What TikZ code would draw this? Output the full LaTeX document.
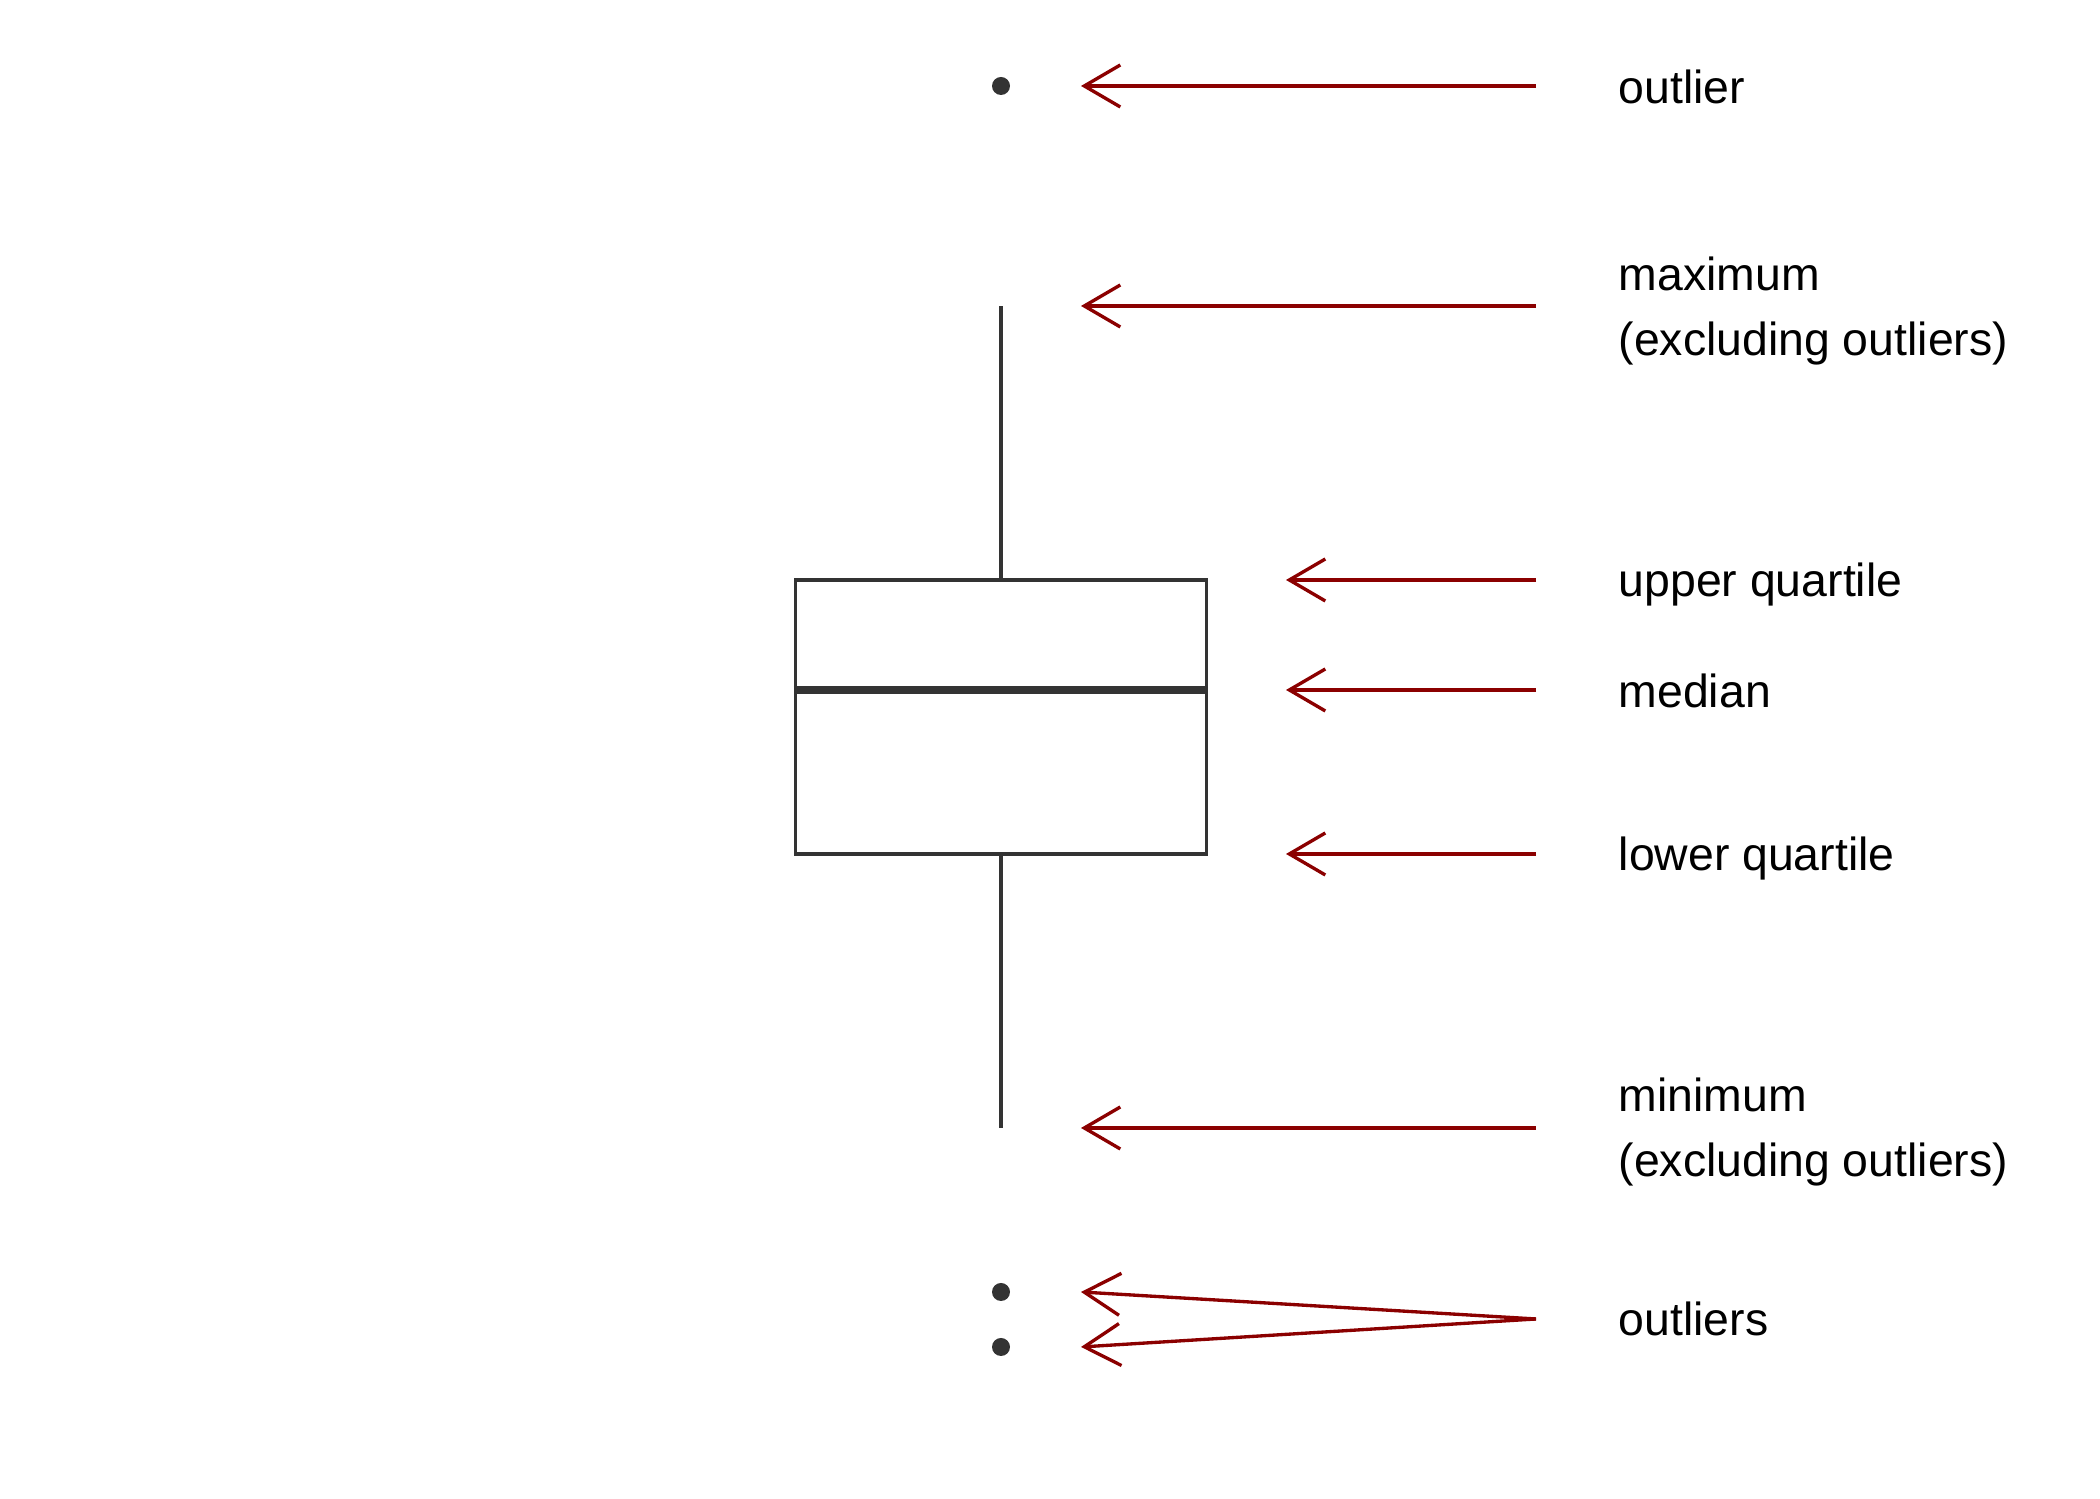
\documentclass[tikz,border=0pt]{standalone}
\usepackage{fontspec}
\setmainfont{Liberation Sans}
\usetikzlibrary{arrows.meta, positioning}
\definecolor{boxgrey}{HTML}{333333}
\definecolor{pointred}{HTML}{8B0000}
\tikzset{
  every node/.style={font=\fontsize{13.2}{18.5}\selectfont},
  plot/.style={draw=boxgrey, line width=0.95pt},
  dot/.style={circle, fill=boxgrey, inner sep=0pt, minimum size=0.18cm},
  pointer/.style={draw=pointred, line width=0.95pt, -{Straight Barb[length=3.6mm, width=4.2mm]}},
  label/.style={anchor=west, inner sep=0pt, align=left},
}

\begin{document}
\begin{tikzpicture}
		\useasboundingbox (0,0) rectangle (21,14.99);

		% box and whiskers
		\node[plot, rectangle, inner sep=0pt, minimum width=4.11cm, minimum height=2.74cm] (box) at (10.01,7.82) {};
		\coordinate (maxw) at (10.01,11.93);
		\coordinate (minw) at (10.01,3.71);
		\coordinate (med) at (10.01,8.09);
		\draw[plot] (box.north) -- (maxw);
		\draw[plot] (box.south) -- (minw);
		\draw[plot, line width=2.3pt] (box.west |- med) -- (box.east |- med);

		% outliers
		\node[dot] (o0) at (10.01,14.13) {};
		\node[dot] (o1) at (10.01,2.07) {};
		\node[dot] (o2) at (10.01,1.52) {};

		% labels
		\node[label] (lout) at (16.18,14.12) {outlier};
		\node[label] (lmax) at (16.18,11.88) {maximum\\(excluding outliers)};
		\node[label] (luq) at (16.18,9.14) {upper quartile};
		\node[label] (lmed) at (16.18,8.08) {median};
		\node[label] (llq) at (16.18,6.40) {lower quartile};
		\node[label] (lmin) at (16.18,3.67) {minimum\\(excluding outliers)};
		\node[label] (louts) at (16.18,1.80) {outliers};

		% arrows
		\coordinate (h0) at (10.81,14.13);
		\coordinate (h1) at (10.81,11.93);
		\coordinate (h2) at (12.86,9.19);
		\coordinate (h3) at (12.86,8.09);
		\coordinate (h4) at (12.86,6.45);
		\coordinate (h5) at (10.81,3.71);
		\coordinate (h6) at (10.81,2.07);
		\coordinate (h7) at (10.81,1.52);
		\coordinate (t0) at (15.36,14.13);
		\coordinate (t1) at (15.36,11.93);
		\coordinate (t2) at (15.36,9.19);
		\coordinate (t3) at (15.36,8.09);
		\coordinate (t4) at (15.36,6.45);
		\coordinate (t5) at (15.36,3.71);
		\coordinate (t6) at (15.36,1.80);
		\foreach \t/\h in {t0/h0, t1/h1, t2/h2, t3/h3, t4/h4, t5/h5, t6/h6, t6/h7}
			\draw[pointer] (\t) -- (\h);

	\end{tikzpicture}
\end{document}
